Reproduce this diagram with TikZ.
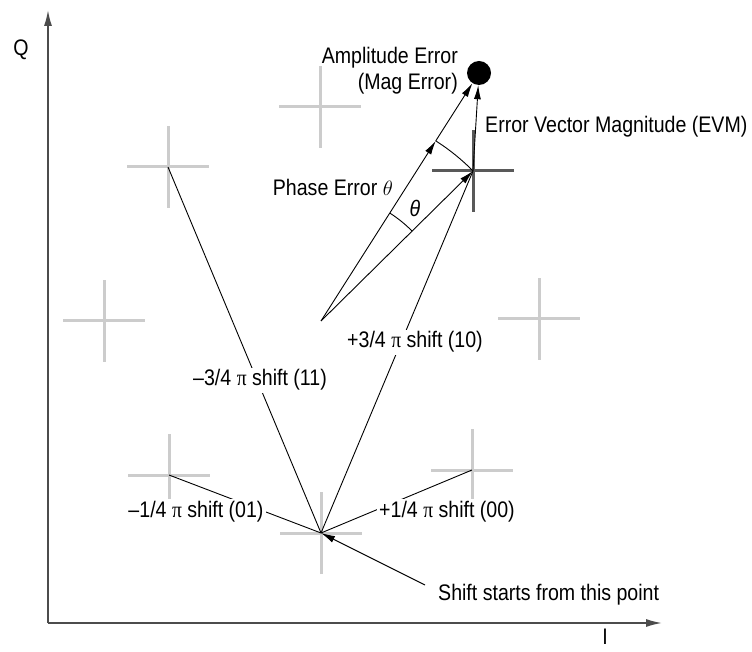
\documentclass[tikz,border=0pt]{standalone}
\usepackage{fontspec}
\setmainfont{Liberation Sans}[FakeStretch=0.87]
\newfontfamily\pifont{Liberation Serif}[FakeStretch=0.87]
\newcommand{\piglyph}{{\pifont π}}
\usetikzlibrary{arrows.meta,calc}

\begin{document}
\begin{tikzpicture}[x=1pt, y=1pt, font=\fontsize{22.5}{26}\selectfont,
    axisline/.style={draw=black!70, line width=1.6pt, -{Latex[length=16pt,width=8pt]}},
    gridcross/.style={draw=black!20, line width=3pt},
    vecline/.style={draw=black, line width=0.9pt},
    vecarrow/.style={vecline, -{Latex[length=14pt,width=7pt]}},
    shiftlabel/.style={fill=white, inner sep=2pt, anchor=base}]
  \useasboundingbox (0,0) rectangle (752,651);

  % --- I/Q axes ---
  \coordinate (orig) at (48,28);
  \coordinate (qend) at (48,641);
  \coordinate (iend) at (662,28);
  \draw[axisline] (orig) -- (qend);
  \draw[axisline] (orig) -- (iend);
  \node[anchor=base] (qlabel) at (21,595) {Q};
  \node[anchor=base, inner sep=0] (ilabel) at (605,7) {I};

  % --- constellation points: light gray crosses, the ideal one darker ---
  \coordinate (p11) at (168,484);
  \coordinate (ptop) at (320,544);
  \coordinate (pleft) at (104,330);
  \coordinate (pright) at (539,332);
  \coordinate (p01) at (169,176);
  \coordinate (p00) at (472,181);
  \coordinate (start) at (321,118);
  \coordinate (p10) at (473,480);
  \foreach \pt in {p11,ptop,pleft,pright,p01,p00,start}
    \draw[gridcross] (\pt) ++(-41,0) -- ++(82,0) (\pt) ++(0,-41) -- ++(0,82);
  \draw[gridcross, draw=black!65]
    (p10) ++(-41,0) -- ++(82,0) (p10) ++(0,-41) -- ++(0,82);

  % --- phase shifts out of the start point ---
  \draw[vecline] (start) -- (p11);
  \draw[vecline] (start) -- (p10);
  \draw[vecline] (start) -- (p01);
  \draw[vecline] (start) -- (p00);
  \node[shiftlabel] (lab11) at (260,265) {–3/4 \piglyph{} shift (11)};
  \node[shiftlabel] (lab10) at (415,303) {+3/4 \piglyph{} shift (10)};
  \node[shiftlabel] (lab01) at (196,134) {–1/4 \piglyph{} shift (01)};
  \node[shiftlabel] (lab00) at (447,134) {+1/4 \piglyph{} shift (00)};

  \coordinate (starttail) at (425,66);
  \node[anchor=base west, inner sep=0] (startlabel) at (438,51)
    {Shift starts from this point};
  \draw[vecarrow] (starttail) -- (start);

  % --- measured vs. ideal vector ---
  \coordinate (refpt) at (321,330);
  \node[circle, fill=black, minimum size=24pt, inner sep=0] (meas) at (479,578) {};
  \coordinate (magref) at ($(refpt)!213.6pt!(meas)$);
  \draw[vecarrow] (refpt) -- (p10);
  \draw[vecarrow] (refpt) -- (magref);
  \draw[vecarrow] (magref) -- (meas);
  \draw[vecarrow] (p10) -- (meas);

  % arcs about refpt: 57.5 deg = measured, 44.6 deg = ideal
  \draw[vecline] (magref) arc[start angle=57.5, end angle=44.6, radius=213.6];
  \draw[vecline] ($(refpt)!128pt!(meas)$)
    arc[start angle=57.5, end angle=44.6, radius=128];
  \node (thetain) at (415,443) {\textit{θ}};

  % --- error labels ---
  \node[anchor=base east, inner sep=0] (amplabel) at (458,587) {Amplitude Error};
  \node[anchor=base east, inner sep=0] (maglabel) at (458,561) {(Mag Error)};
  \node[anchor=base west, inner sep=0] (evmlabel) at (485,518)
    {Error Vector Magnitude (EVM)};
  \node[anchor=base east, inner sep=0] (phaselabel) at (393,455)
    {Phase Error $\theta$};
\end{tikzpicture}
\end{document}
